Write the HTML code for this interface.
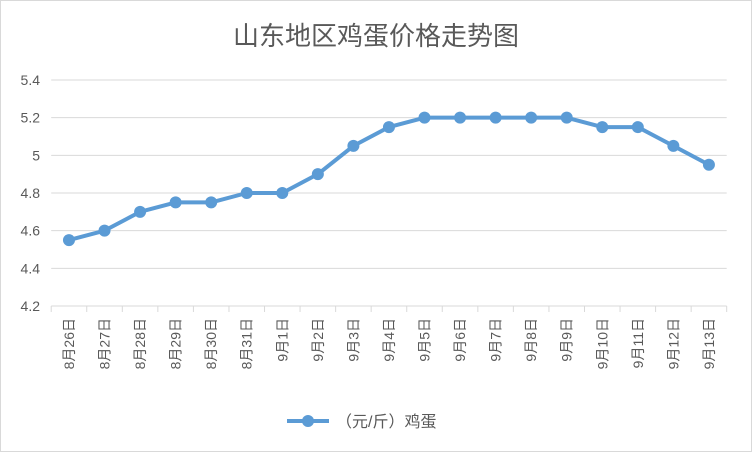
<!DOCTYPE html>
<html><head><meta charset="utf-8"><style>
body{margin:0;background:#fff}
svg{display:block;font-family:"Liberation Sans","Noto Sans CJK SC",sans-serif}
</style></head><body>
<svg width="752" height="452">
<rect x="0.5" y="0.5" width="751" height="451" fill="#fff" stroke="#d9d9d9"/>
<text x="376" y="45" text-anchor="middle" font-size="26" fill="#595959">山东地区鸡蛋价格走势图</text>
<g id="grid"></g><g id="xaxis"></g><g id="series"></g>
<g>
<line x1="287" y1="421" x2="329" y2="421" stroke="#5b9bd5" stroke-width="4"/>
<circle cx="308" cy="421" r="6" fill="#5b9bd5"/>
<text x="336" y="427" font-size="16" fill="#595959">（元/斤）鸡蛋</text>
</g>
</svg>
<script>
const categories=["8月26日","8月27日","8月28日","8月29日","8月30日","8月31日","9月1日","9月2日","9月3日","9月4日","9月5日","9月6日","9月7日","9月8日","9月9日","9月10日","9月11日","9月12日","9月13日"];
const values=[4.55,4.6,4.7,4.75,4.75,4.8,4.8,4.9,5.05,5.15,5.2,5.2,5.2,5.2,5.2,5.15,5.15,5.05,4.95];
const yTicks=[4.2,4.4,4.6,4.8,5,5.2,5.4];
const NS="http://www.w3.org/2000/svg";
const L=51.2,R=726.7,T=80,B=306,ymin=4.2,ymax=5.4;
const bw=(R-L)/categories.length;
const x=i=>L+bw*(i+0.5);
const y=v=>B-(v-ymin)/(ymax-ymin)*(B-T);
function mk(tag,attrs,parent){const e=document.createElementNS(NS,tag);for(const k in attrs)e.setAttribute(k,attrs[k]);parent.appendChild(e);return e;}
const g=document.getElementById('grid'),xa=document.getElementById('xaxis'),s=document.getElementById('series');
yTicks.forEach(t=>{
 const ln=mk('line',{x1:L,x2:R,y1:y(t),y2:y(t),stroke:t===ymin?'#d9d9d9':'#d9d9d9','stroke-width':1},g);
 
 
 const tx=mk('text',{x:40,y:y(t)+5,'text-anchor':'end','font-size':14,fill:'#595959'},g);
 tx.textContent=String(t);
 
 
});
for(let i=0;i<=categories.length;i++){
 const tk=mk('line',{x1:L+bw*i,x2:L+bw*i,y1:B,y2:B+6,stroke:'#d9d9d9'},xa);
 
 
}
categories.forEach((c,i)=>{
 const tx=mk('text',{x:0,y:0,'text-anchor':'end','font-size':14,fill:'#595959',transform:`translate(${x(i)+5},318) rotate(-90)`},xa);
 tx.textContent=c;
 
 
});
const pl=mk('polyline',{points:values.map((v,i)=>x(i)+','+y(v)).join(' '),fill:'none',stroke:'#5b9bd5','stroke-width':4,'stroke-linejoin':'round'},s);


values.forEach((v,i)=>{
 const c=mk('circle',{cx:x(i),cy:y(v),r:6,fill:'#5b9bd5'},s);
 
 
});
</script>
</body></html>
